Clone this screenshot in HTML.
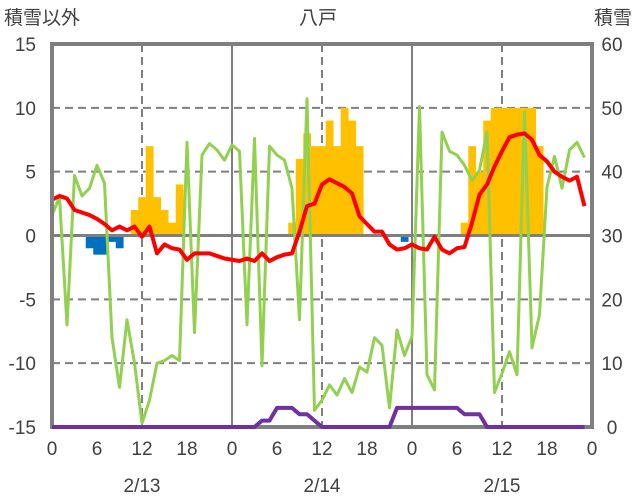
<!DOCTYPE html>
<html><head><meta charset="utf-8"><style>
html,body{margin:0;padding:0;background:#fff;}
svg{display:block;}
text{font-family:"Liberation Sans","Noto Sans CJK JP",sans-serif;fill:#404040;font-size:19px;}
</style></head><body>
<svg id="chart" width="636" height="501" viewBox="0 0 636 501"></svg>
<script>
const hours = Array.from({length:72},(_,i)=>i);
const temperature = [2.8,3.1,2.9,2.0,1.8,1.6,1.3,0.9,0.4,0.7,0.4,0.7,-0.1,0.7,-1.4,-0.7,-1.0,-1.1,-1.9,-1.4,-1.4,-1.4,-1.6,-1.8,
-1.9,-2.0,-1.8,-2.0,-1.4,-2.0,-1.7,-1.5,-1.4,0.3,2.3,2.5,4.0,4.4,4.1,3.8,3.3,1.5,0.9,0.3,0.3,-0.7,-1.1,-1.0,
-0.7,-1.0,-1.1,-0.1,-1.1,-1.4,-1.0,-0.9,1.0,3.2,4.0,5.4,6.6,7.7,7.9,8.0,7.5,6.3,5.8,5.0,4.6,4.3,4.6,2.3];
const greenSeries = [1.6,3.0,-7.0,4.7,3.1,3.7,5.5,4.1,-8.0,-11.9,-6.6,-10.0,-14.7,-12.9,-10.0,-9.8,-9.4,-9.8,7.3,-7.6,6.3,7.2,6.7,5.9,
7.1,6.6,-7.0,7.6,-10.2,7.0,6.3,5.9,3.7,-6.6,10.7,-13.7,-12.9,-11.7,-12.5,-11.2,-12.3,-10.3,-10.7,-8.0,-8.6,-13.5,-7.4,-9.4,
-7.9,10.1,-10.9,-12.1,8.1,6.6,6.3,5.5,4.3,5.1,8.1,-12.3,-10.8,-9.1,-10.9,9.7,-8.8,-6.2,3.8,6.2,3.7,6.7,7.3,6.1];
const snowfall = [0,0,0,0,0,0,0,0,0,0,0,2,3,7,3,2,1,4,0,0,0,0,0,0,
0,0,0,0,0,0,0,0,1,6,8,7,7,9,7,10,9,7,0,0,0,0,0,0,
0,0,0,0,0,0,0,1,7,5,9,10,10,10,10,10,10,7,0,0,0,0,0,0];
const negBars = [0,0,0,0,0,-1.0,-1.5,-1.5,-0.5,-1.0,0,0,0,0,0,0,0,0,0,0,0,0,0,0,
0,0,0,0,0,0,0,0,0,0,0,0,0,0,0,0,0,0,0,0,0,0,0,-0.5,
0,0,0,0,0,0,0,0,0,0,0,0,0,0,0,0,0,0,0,0,0,0,0,0];
const snowDepth = [0,0,0,0,0,0,0,0,0,0,0,0,0,0,0,0,0,0,0,0,0,0,0,0,
0,0,0,0,1,1,3,3,3,2,2,1,0,0,0,0,0,0,0,0,0,0,3,3,
3,3,3,3,3,3,3,2,2,2,0,0,0,0,0,0,0,0,0,0,0,0,0,0];
const leftTicks = [15,10,5,0,-5,-10,-15];
const rightTicks = [60,50,40,30,20,10,0];
const hourTicks = [0,6,12,18,24,30,36,42,48,54,60,66,72];
const hourTickLabels = ["0","6","12","18","0","6","12","18","0","6","12","18","0"];
const dateLabels = ["2/13","2/14","2/15"];

const X0=52, X1=592, YT=44, YB=427;
const xs = h => X0 + h*(X1-X0)/72;
const yL = v => YB - (v+15)*(YB-YT)/30;
const yR = v => YB - v*(YB-YT)/60;
const svg = document.getElementById('chart');
const NS='http://www.w3.org/2000/svg';
function mk(tag, attrs, parent){const e=document.createElementNS(NS,tag);for(const k in attrs)e.setAttribute(k,attrs[k]);(parent||svg).appendChild(e);return e;}

leftTicks.forEach(v=>{ if(v!==15 && v!==-15 && v!==0){
  const g=mk('line',{x1:X0,x2:X1,y1:yL(v),y2:yL(v),stroke:'#7f7f7f','stroke-width':2,'stroke-dasharray':'8,5'});
  
  
}});
[12,36,60].forEach(h=>{
  const g=mk('line',{x1:xs(h),x2:xs(h),y1:YT,y2:YB,stroke:'#7f7f7f','stroke-width':2,'stroke-dasharray':'8,5'});
  
  
});
[24,48].forEach(h=>{
  const g=mk('line',{x1:xs(h),x2:xs(h),y1:YT,y2:YB,stroke:'#7f7f7f','stroke-width':2});
  
  
});

const bw=(X1-X0)/72;
hours.forEach(i=>{
  if(snowfall[i]>0){
    const r=mk('rect',{x:xs(i)-bw/2,y:yL(snowfall[i]),width:bw+0.3,height:yL(0)-yL(snowfall[i]),fill:'#ffc000'});
    
    
  }
  if(negBars[i]<0){
    const r=mk('rect',{x:xs(i)-bw/2,y:yL(0),width:bw+0.3,height:yL(negBars[i])-yL(0),fill:'#0070c0'});
    
    
  }
});

const z=mk('line',{x1:X0,x2:X1,y1:yL(0),y2:yL(0),stroke:'#7f7f7f','stroke-width':3});



function line(arr, yf, color, w, name){
  const p=mk('polyline',{points:arr.map((v,i)=>xs(i)+','+yf(v)).join(' '),fill:'none',stroke:color,'stroke-width':w,'stroke-linejoin':'round'});
  
  
}
line(greenSeries, yL, '#92d050', 3, 'green-series-line');
line(temperature, yL, '#ff0000', 4, 'temperature-line');

const b=mk('rect',{x:X0,y:YT,width:X1-X0,height:YB-YT,fill:'none',stroke:'#7f7f7f','stroke-width':4});



line(snowDepth, yR, '#7030a0', 4, 'snow-depth-line');

leftTicks.forEach(v=>{
  const t=mk('text',{x:36,y:yL(v)+7,'text-anchor':'end'}); t.textContent=String(v);
  
  
});
rightTicks.forEach(v=>{
  const t=mk('text',{x:612,y:yR(v)+7,'text-anchor':'middle'}); t.textContent=String(v);
  
  
});
hourTicks.forEach((h,i)=>{
  const t=mk('text',{x:xs(h),y:455,'text-anchor':'middle'}); t.textContent=hourTickLabels[i];
  
  
});
dateLabels.forEach((d,i)=>{
  const t=mk('text',{x:xs(12+24*i),y:492,'text-anchor':'middle'}); t.textContent=d;
  
  
});
</script>
<svg style="position:absolute;left:0;top:0" width="636" height="40">
<text x="4" y="24">積雪以外</text>
<text x="318" y="24" text-anchor="middle">八戸</text>
<text x="632" y="24" text-anchor="end">積雪</text>
</svg>
</body></html>
